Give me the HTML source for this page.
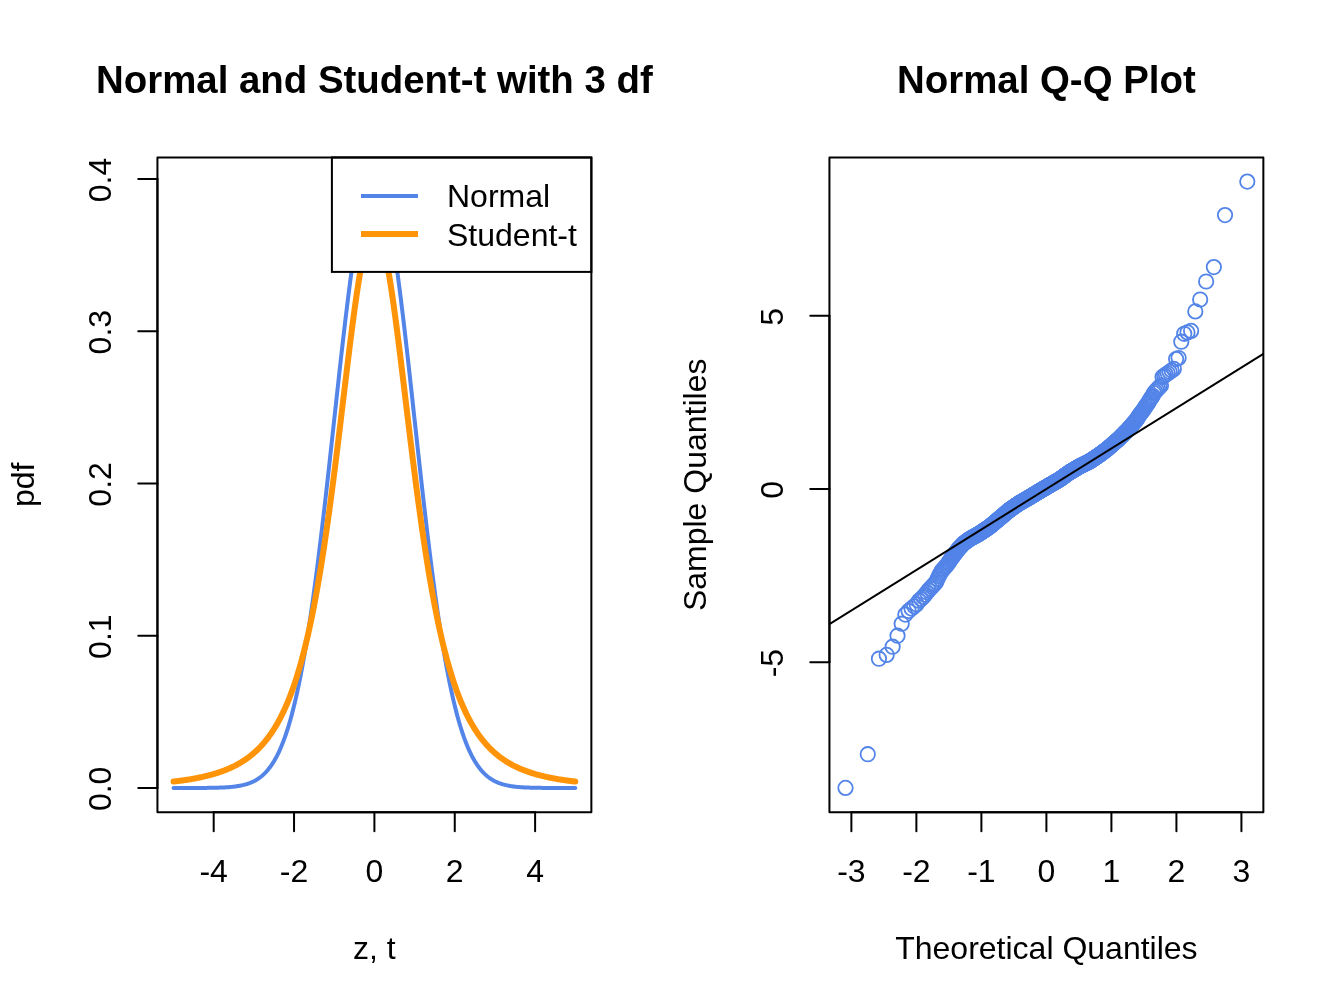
<!DOCTYPE html>
<html><head><meta charset="utf-8"><title>Normal and Student-t</title>
<style>
html,body{margin:0;padding:0;background:#fff}
body{width:1344px;height:1008px;overflow:hidden;font-family:"Liberation Sans",sans-serif}
svg{display:block;will-change:transform}
</style></head><body>
<svg width="1344" height="1008" viewBox="0 0 1344 1008">
<rect width="1344" height="1008" fill="#fff"/>
<g fill="none" stroke-linecap="round" stroke-linejoin="round">
<polyline points="173.51,787.98 174.52,787.98 175.52,787.98 176.52,787.98 177.53,787.98 178.53,787.98 179.54,787.98 180.54,787.97 181.55,787.97 182.55,787.97 183.56,787.97 184.56,787.97 185.56,787.97 186.57,787.97 187.57,787.97 188.58,787.97 189.58,787.96 190.59,787.96 191.59,787.96 192.6,787.96 193.6,787.96 194.6,787.95 195.61,787.95 196.61,787.95 197.62,787.94 198.62,787.94 199.63,787.93 200.63,787.93 201.64,787.92 202.64,787.91 203.64,787.91 204.65,787.9 205.65,787.89 206.66,787.88 207.66,787.87 208.67,787.86 209.67,787.84 210.68,787.83 211.68,787.81 212.68,787.8 213.69,787.78 214.69,787.75 215.7,787.73 216.7,787.71 217.71,787.68 218.71,787.65 219.72,787.61 220.72,787.58 221.72,787.54 222.73,787.49 223.73,787.44 224.74,787.39 225.74,787.33 226.75,787.27 227.75,787.2 228.76,787.13 229.76,787.05 230.76,786.96 231.77,786.87 232.77,786.76 233.78,786.65 234.78,786.53 235.79,786.4 236.79,786.26 237.8,786.1 238.8,785.94 239.8,785.76 240.81,785.57 241.81,785.36 242.82,785.13 243.82,784.89 244.83,784.63 245.83,784.35 246.84,784.05 247.84,783.73 248.84,783.38 249.85,783.01 250.85,782.61 251.86,782.18 252.86,781.72 253.87,781.23 254.87,780.71 255.88,780.15 256.88,779.55 257.88,778.92 258.89,778.24 259.89,777.52 260.9,776.75 261.9,775.93 262.91,775.06 263.91,774.14 264.92,773.16 265.92,772.12 266.92,771.01 267.93,769.85 268.93,768.61 269.94,767.3 270.94,765.92 271.95,764.46 272.95,762.92 273.96,761.3 274.96,759.58 275.96,757.78 276.97,755.88 277.97,753.89 278.98,751.79 279.98,749.59 280.99,747.28 281.99,744.86 283,742.32 284,739.66 285,736.88 286.01,733.98 287.01,730.94 288.02,727.77 289.02,724.47 290.03,721.02 291.03,717.44 292.04,713.7 293.04,709.82 294.04,705.79 295.05,701.6 296.05,697.26 297.06,692.75 298.06,688.09 299.07,683.26 300.07,678.27 301.08,673.12 302.08,667.79 303.08,662.3 304.09,656.64 305.09,650.81 306.1,644.81 307.1,638.64 308.11,632.3 309.11,625.79 310.12,619.12 311.12,612.29 312.12,605.29 313.13,598.13 314.13,590.81 315.14,583.34 316.14,575.72 317.15,567.95 318.15,560.05 319.16,552 320.16,543.82 321.16,535.52 322.17,527.1 323.17,518.57 324.18,509.93 325.18,501.19 326.19,492.37 327.19,483.46 328.2,474.48 329.2,465.43 330.2,456.34 331.21,447.2 332.21,438.02 333.22,428.83 334.22,419.62 335.23,410.41 336.23,401.22 337.24,392.05 338.24,382.91 339.24,373.82 340.25,364.8 341.25,355.84 342.26,346.98 343.26,338.21 344.27,329.55 345.27,321.02 346.28,312.63 347.28,304.39 348.28,296.31 349.29,288.41 350.29,280.7 351.3,273.2 352.3,265.91 353.31,258.85 354.31,252.02 355.32,245.45 356.32,239.14 357.32,233.1 358.33,227.35 359.33,221.9 360.34,216.74 361.34,211.9 362.35,207.38 363.35,203.2 364.36,199.35 365.36,195.84 366.36,192.69 367.37,189.89 368.37,187.45 369.38,185.39 370.38,183.69 371.39,182.37 372.39,181.42 373.4,180.85 374.4,180.66 375.4,180.85 376.41,181.42 377.41,182.37 378.42,183.69 379.42,185.39 380.43,187.45 381.43,189.89 382.44,192.69 383.44,195.84 384.44,199.35 385.45,203.2 386.45,207.38 387.46,211.9 388.46,216.74 389.47,221.9 390.47,227.35 391.48,233.1 392.48,239.14 393.48,245.45 394.49,252.02 395.49,258.85 396.5,265.91 397.5,273.2 398.51,280.7 399.51,288.41 400.52,296.31 401.52,304.39 402.52,312.63 403.53,321.02 404.53,329.55 405.54,338.21 406.54,346.98 407.55,355.84 408.55,364.8 409.56,373.82 410.56,382.91 411.56,392.05 412.57,401.22 413.57,410.41 414.58,419.62 415.58,428.83 416.59,438.02 417.59,447.2 418.6,456.34 419.6,465.43 420.6,474.48 421.61,483.46 422.61,492.37 423.62,501.19 424.62,509.93 425.63,518.57 426.63,527.1 427.64,535.52 428.64,543.82 429.64,552 430.65,560.05 431.65,567.95 432.66,575.72 433.66,583.34 434.67,590.81 435.67,598.13 436.68,605.29 437.68,612.29 438.68,619.12 439.69,625.79 440.69,632.3 441.7,638.64 442.7,644.81 443.71,650.81 444.71,656.64 445.72,662.3 446.72,667.79 447.72,673.12 448.73,678.27 449.73,683.26 450.74,688.09 451.74,692.75 452.75,697.26 453.75,701.6 454.76,705.79 455.76,709.82 456.76,713.7 457.77,717.44 458.77,721.02 459.78,724.47 460.78,727.77 461.79,730.94 462.79,733.98 463.8,736.88 464.8,739.66 465.8,742.32 466.81,744.86 467.81,747.28 468.82,749.59 469.82,751.79 470.83,753.89 471.83,755.88 472.84,757.78 473.84,759.58 474.84,761.3 475.85,762.92 476.85,764.46 477.86,765.92 478.86,767.3 479.87,768.61 480.87,769.85 481.88,771.01 482.88,772.12 483.88,773.16 484.89,774.14 485.89,775.06 486.9,775.93 487.9,776.75 488.91,777.52 489.91,778.24 490.92,778.92 491.92,779.55 492.92,780.15 493.93,780.71 494.93,781.23 495.94,781.72 496.94,782.18 497.95,782.61 498.95,783.01 499.96,783.38 500.96,783.73 501.96,784.05 502.97,784.35 503.97,784.63 504.98,784.89 505.98,785.13 506.99,785.36 507.99,785.57 509,785.76 510,785.94 511,786.1 512.01,786.26 513.01,786.4 514.02,786.53 515.02,786.65 516.03,786.76 517.03,786.87 518.04,786.96 519.04,787.05 520.04,787.13 521.05,787.2 522.05,787.27 523.06,787.33 524.06,787.39 525.07,787.44 526.07,787.49 527.08,787.54 528.08,787.58 529.08,787.61 530.09,787.65 531.09,787.68 532.1,787.71 533.1,787.73 534.11,787.75 535.11,787.78 536.12,787.8 537.12,787.81 538.12,787.83 539.13,787.84 540.13,787.86 541.14,787.87 542.14,787.88 543.15,787.89 544.15,787.9 545.16,787.91 546.16,787.91 547.16,787.92 548.17,787.93 549.17,787.93 550.18,787.94 551.18,787.94 552.19,787.95 553.19,787.95 554.2,787.95 555.2,787.96 556.2,787.96 557.21,787.96 558.21,787.96 559.22,787.96 560.22,787.97 561.23,787.97 562.23,787.97 563.24,787.97 564.24,787.97 565.24,787.97 566.25,787.97 567.25,787.97 568.26,787.97 569.26,787.98 570.27,787.98 571.27,787.98 572.28,787.98 573.28,787.98 574.28,787.98 575.29,787.98" stroke="#5384E8" stroke-width="4"/>
<polyline points="173.51,781.56 174.52,781.44 175.52,781.32 176.52,781.2 177.53,781.08 178.53,780.95 179.54,780.82 180.54,780.69 181.55,780.55 182.55,780.42 183.56,780.27 184.56,780.13 185.56,779.98 186.57,779.83 187.57,779.67 188.58,779.52 189.58,779.35 190.59,779.19 191.59,779.02 192.6,778.84 193.6,778.66 194.6,778.48 195.61,778.29 196.61,778.1 197.62,777.91 198.62,777.71 199.63,777.5 200.63,777.29 201.64,777.08 202.64,776.85 203.64,776.63 204.65,776.4 205.65,776.16 206.66,775.92 207.66,775.67 208.67,775.41 209.67,775.15 210.68,774.88 211.68,774.6 212.68,774.32 213.69,774.03 214.69,773.73 215.7,773.43 216.7,773.11 217.71,772.79 218.71,772.46 219.72,772.13 220.72,771.78 221.72,771.42 222.73,771.06 223.73,770.68 224.74,770.3 225.74,769.9 226.75,769.5 227.75,769.08 228.76,768.65 229.76,768.21 230.76,767.76 231.77,767.29 232.77,766.82 233.78,766.33 234.78,765.82 235.79,765.3 236.79,764.77 237.8,764.23 238.8,763.66 239.8,763.08 240.81,762.49 241.81,761.88 242.82,761.25 243.82,760.6 244.83,759.94 245.83,759.25 246.84,758.55 247.84,757.82 248.84,757.08 249.85,756.31 250.85,755.52 251.86,754.71 252.86,753.87 253.87,753.01 254.87,752.12 255.88,751.21 256.88,750.27 257.88,749.3 258.89,748.3 259.89,747.27 260.9,746.21 261.9,745.12 262.91,744 263.91,742.84 264.92,741.65 265.92,740.42 266.92,739.15 267.93,737.85 268.93,736.5 269.94,735.11 270.94,733.68 271.95,732.21 272.95,730.69 273.96,729.12 274.96,727.51 275.96,725.84 276.97,724.13 277.97,722.36 278.98,720.53 279.98,718.65 280.99,716.71 281.99,714.7 283,712.64 284,710.51 285,708.32 286.01,706.05 287.01,703.72 288.02,701.31 289.02,698.83 290.03,696.27 291.03,693.63 292.04,690.91 293.04,688.1 294.04,685.21 295.05,682.23 296.05,679.15 297.06,675.99 298.06,672.72 299.07,669.36 300.07,665.9 301.08,662.33 302.08,658.65 303.08,654.86 304.09,650.97 305.09,646.95 306.1,642.82 307.1,638.57 308.11,634.2 309.11,629.7 310.12,625.08 311.12,620.33 312.12,615.44 313.13,610.43 314.13,605.27 315.14,599.99 316.14,594.56 317.15,588.99 318.15,583.29 319.16,577.44 320.16,571.45 321.16,565.31 322.17,559.04 323.17,552.62 324.18,546.06 325.18,539.37 326.19,532.53 327.19,525.56 328.2,518.45 329.2,511.22 330.2,503.86 331.21,496.37 332.21,488.77 333.22,481.06 334.22,473.24 335.23,465.33 336.23,457.32 337.24,449.23 338.24,441.07 339.24,432.84 340.25,424.57 341.25,416.25 342.26,407.91 343.26,399.55 344.27,391.19 345.27,382.85 346.28,374.53 347.28,366.27 348.28,358.07 349.29,349.94 350.29,341.92 351.3,334.02 352.3,326.25 353.31,318.65 354.31,311.22 355.32,303.98 356.32,296.97 357.32,290.19 358.33,283.67 359.33,277.43 360.34,271.49 361.34,265.86 362.35,260.57 363.35,255.62 364.36,251.05 365.36,246.86 366.36,243.07 367.37,239.7 368.37,236.75 369.38,234.23 370.38,232.16 371.39,230.54 372.39,229.38 373.4,228.68 374.4,228.45 375.4,228.68 376.41,229.38 377.41,230.54 378.42,232.16 379.42,234.23 380.43,236.75 381.43,239.7 382.44,243.07 383.44,246.86 384.44,251.05 385.45,255.62 386.45,260.57 387.46,265.86 388.46,271.49 389.47,277.43 390.47,283.67 391.48,290.19 392.48,296.97 393.48,303.98 394.49,311.22 395.49,318.65 396.5,326.25 397.5,334.02 398.51,341.92 399.51,349.94 400.52,358.07 401.52,366.27 402.52,374.53 403.53,382.85 404.53,391.19 405.54,399.55 406.54,407.91 407.55,416.25 408.55,424.57 409.56,432.84 410.56,441.07 411.56,449.23 412.57,457.32 413.57,465.33 414.58,473.24 415.58,481.06 416.59,488.77 417.59,496.37 418.6,503.86 419.6,511.22 420.6,518.45 421.61,525.56 422.61,532.53 423.62,539.37 424.62,546.06 425.63,552.62 426.63,559.04 427.64,565.31 428.64,571.45 429.64,577.44 430.65,583.29 431.65,588.99 432.66,594.56 433.66,599.99 434.67,605.27 435.67,610.43 436.68,615.44 437.68,620.33 438.68,625.08 439.69,629.7 440.69,634.2 441.7,638.57 442.7,642.82 443.71,646.95 444.71,650.97 445.72,654.86 446.72,658.65 447.72,662.33 448.73,665.9 449.73,669.36 450.74,672.72 451.74,675.99 452.75,679.15 453.75,682.23 454.76,685.21 455.76,688.1 456.76,690.91 457.77,693.63 458.77,696.27 459.78,698.83 460.78,701.31 461.79,703.72 462.79,706.05 463.8,708.32 464.8,710.51 465.8,712.64 466.81,714.7 467.81,716.71 468.82,718.65 469.82,720.53 470.83,722.36 471.83,724.13 472.84,725.84 473.84,727.51 474.84,729.12 475.85,730.69 476.85,732.21 477.86,733.68 478.86,735.11 479.87,736.5 480.87,737.85 481.88,739.15 482.88,740.42 483.88,741.65 484.89,742.84 485.89,744 486.9,745.12 487.9,746.21 488.91,747.27 489.91,748.3 490.92,749.3 491.92,750.27 492.92,751.21 493.93,752.12 494.93,753.01 495.94,753.87 496.94,754.71 497.95,755.52 498.95,756.31 499.96,757.08 500.96,757.82 501.96,758.55 502.97,759.25 503.97,759.94 504.98,760.6 505.98,761.25 506.99,761.88 507.99,762.49 509,763.08 510,763.66 511,764.23 512.01,764.77 513.01,765.3 514.02,765.82 515.02,766.33 516.03,766.82 517.03,767.29 518.04,767.76 519.04,768.21 520.04,768.65 521.05,769.08 522.05,769.5 523.06,769.9 524.06,770.3 525.07,770.68 526.07,771.06 527.08,771.42 528.08,771.78 529.08,772.13 530.09,772.46 531.09,772.79 532.1,773.11 533.1,773.43 534.11,773.73 535.11,774.03 536.12,774.32 537.12,774.6 538.12,774.88 539.13,775.15 540.13,775.41 541.14,775.67 542.14,775.92 543.15,776.16 544.15,776.4 545.16,776.63 546.16,776.85 547.16,777.08 548.17,777.29 549.17,777.5 550.18,777.71 551.18,777.91 552.19,778.1 553.19,778.29 554.2,778.48 555.2,778.66 556.2,778.84 557.21,779.02 558.21,779.19 559.22,779.35 560.22,779.52 561.23,779.67 562.23,779.83 563.24,779.98 564.24,780.13 565.24,780.27 566.25,780.42 567.25,780.55 568.26,780.69 569.26,780.82 570.27,780.95 571.27,781.08 572.28,781.2 573.28,781.32 574.28,781.44 575.29,781.56" stroke="#FF9409" stroke-width="6"/>
</g>
<rect x="331.9" y="157.44" width="259.46" height="114.46" fill="#fff" stroke="#000" stroke-width="2"/>
<line x1="361" x2="418" y1="195.9" y2="195.9" stroke="#5384E8" stroke-width="4"/>
<line x1="361" x2="418" y1="234.1" y2="234.1" stroke="#FF9409" stroke-width="6"/>
<text x="447" y="207.3" font-size="32" font-family="Liberation Sans, sans-serif">Normal</text>
<text x="447" y="245.5" font-size="32" font-family="Liberation Sans, sans-serif">Student-t</text>
<g stroke="#000" stroke-width="2" fill="none" stroke-linecap="round">
<rect x="157.44" y="157.44" width="433.92" height="654.72" stroke-linejoin="round"/>
<path d="M213.69 812.16H535.11"/>
<path d="M213.69 812.16v19.2"/>
<path d="M294.04 812.16v19.2"/>
<path d="M374.4 812.16v19.2"/>
<path d="M454.76 812.16v19.2"/>
<path d="M535.11 812.16v19.2"/>
<path d="M157.44 179.05V787.98"/>
<path d="M157.44 787.98h-19.2"/>
<path d="M157.44 635.75h-19.2"/>
<path d="M157.44 483.51h-19.2"/>
<path d="M157.44 331.28h-19.2"/>
<path d="M157.44 179.05h-19.2"/>
</g>
<g font-size="32" font-family="Liberation Sans, sans-serif" text-anchor="middle" fill="#000">
<text x="213.69" y="881.88">-4</text>
<text x="294.04" y="881.88">-2</text>
<text x="374.4" y="881.88">0</text>
<text x="454.76" y="881.88">2</text>
<text x="535.11" y="881.88">4</text>
<text x="374.4" y="958.58">z, t</text>
<text transform="translate(111.36 788.88) rotate(-90)">0.0</text>
<text transform="translate(111.36 636.65) rotate(-90)">0.1</text>
<text transform="translate(111.36 484.41) rotate(-90)">0.2</text>
<text transform="translate(111.36 332.18) rotate(-90)">0.3</text>
<text transform="translate(111.36 179.95) rotate(-90)">0.4</text>
<text transform="translate(33.76 484.8) rotate(-90)">pdf</text>
</g>
<text x="374.4" y="92.7" font-size="38.4" font-weight="bold" font-family="Liberation Sans, sans-serif" text-anchor="middle">Normal and Student-t with 3 df</text>
<g fill="none" stroke="#5384E8" stroke-width="1.8">
<circle cx="845.51" cy="787.9" r="7.2"/>
<circle cx="867.77" cy="754.2" r="7.2"/>
<circle cx="878.95" cy="658.7" r="7.2"/>
<circle cx="886.66" cy="654.9" r="7.2"/>
<circle cx="892.62" cy="646.7" r="7.2"/>
<circle cx="897.51" cy="635.7" r="7.2"/>
<circle cx="901.68" cy="623.7" r="7.2"/>
<circle cx="905.33" cy="614.6" r="7.2"/>
<circle cx="908.58" cy="611" r="7.2"/>
<circle cx="911.52" cy="608.6" r="7.2"/>
<circle cx="914.21" cy="606.3" r="7.2"/>
<circle cx="916.68" cy="604.3" r="7.2"/>
<circle cx="918.99" cy="600.73" r="7.2"/>
<circle cx="921.14" cy="598.93" r="7.2"/>
<circle cx="923.17" cy="596.95" r="7.2"/>
<circle cx="925.08" cy="594.76" r="7.2"/>
<circle cx="926.89" cy="592.38" r="7.2"/>
<circle cx="928.61" cy="590.35" r="7.2"/>
<circle cx="930.26" cy="588.53" r="7.2"/>
<circle cx="931.83" cy="586.78" r="7.2"/>
<circle cx="933.34" cy="585.16" r="7.2"/>
<circle cx="934.79" cy="583.71" r="7.2"/>
<circle cx="936.19" cy="581.9" r="7.2"/>
<circle cx="937.53" cy="579.03" r="7.2"/>
<circle cx="938.84" cy="576.13" r="7.2"/>
<circle cx="940.1" cy="573.64" r="7.2"/>
<circle cx="941.32" cy="571.6" r="7.2"/>
<circle cx="942.51" cy="569.98" r="7.2"/>
<circle cx="943.66" cy="568.65" r="7.2"/>
<circle cx="944.78" cy="567.37" r="7.2"/>
<circle cx="945.87" cy="566.16" r="7.2"/>
<circle cx="946.93" cy="564.97" r="7.2"/>
<circle cx="947.97" cy="563.47" r="7.2"/>
<circle cx="948.99" cy="561.97" r="7.2"/>
<circle cx="949.98" cy="560.51" r="7.2"/>
<circle cx="950.94" cy="559.08" r="7.2"/>
<circle cx="951.89" cy="557.79" r="7.2"/>
<circle cx="952.82" cy="556.53" r="7.2"/>
<circle cx="953.73" cy="555.3" r="7.2"/>
<circle cx="954.62" cy="554.09" r="7.2"/>
<circle cx="955.49" cy="552.9" r="7.2"/>
<circle cx="956.35" cy="551.73" r="7.2"/>
<circle cx="957.2" cy="550.59" r="7.2"/>
<circle cx="958.02" cy="549.47" r="7.2"/>
<circle cx="958.84" cy="548.59" r="7.2"/>
<circle cx="959.64" cy="547.71" r="7.2"/>
<circle cx="960.43" cy="546.85" r="7.2"/>
<circle cx="961.2" cy="546.01" r="7.2"/>
<circle cx="961.97" cy="545.17" r="7.2"/>
<circle cx="962.72" cy="544.35" r="7.2"/>
<circle cx="963.46" cy="543.55" r="7.2"/>
<circle cx="964.19" cy="543" r="7.2"/>
<circle cx="964.91" cy="542.48" r="7.2"/>
<circle cx="965.62" cy="541.96" r="7.2"/>
<circle cx="966.32" cy="541.45" r="7.2"/>
<circle cx="967.01" cy="540.95" r="7.2"/>
<circle cx="967.69" cy="540.46" r="7.2"/>
<circle cx="968.37" cy="539.97" r="7.2"/>
<circle cx="969.03" cy="539.48" r="7.2"/>
<circle cx="969.69" cy="539.01" r="7.2"/>
<circle cx="970.34" cy="538.64" r="7.2"/>
<circle cx="970.98" cy="538.29" r="7.2"/>
<circle cx="971.62" cy="537.93" r="7.2"/>
<circle cx="972.25" cy="537.59" r="7.2"/>
<circle cx="972.87" cy="537.24" r="7.2"/>
<circle cx="973.48" cy="536.9" r="7.2"/>
<circle cx="974.09" cy="536.56" r="7.2"/>
<circle cx="974.69" cy="536.23" r="7.2"/>
<circle cx="975.29" cy="535.9" r="7.2"/>
<circle cx="975.88" cy="535.57" r="7.2"/>
<circle cx="976.46" cy="535.24" r="7.2"/>
<circle cx="977.04" cy="534.92" r="7.2"/>
<circle cx="977.61" cy="534.6" r="7.2"/>
<circle cx="978.18" cy="534.29" r="7.2"/>
<circle cx="978.74" cy="533.98" r="7.2"/>
<circle cx="979.3" cy="533.67" r="7.2"/>
<circle cx="979.85" cy="533.33" r="7.2"/>
<circle cx="980.4" cy="532.96" r="7.2"/>
<circle cx="980.95" cy="532.59" r="7.2"/>
<circle cx="981.48" cy="532.22" r="7.2"/>
<circle cx="982.02" cy="531.86" r="7.2"/>
<circle cx="982.55" cy="531.5" r="7.2"/>
<circle cx="983.08" cy="531.15" r="7.2"/>
<circle cx="983.6" cy="530.8" r="7.2"/>
<circle cx="984.11" cy="530.44" r="7.2"/>
<circle cx="984.63" cy="530.1" r="7.2"/>
<circle cx="985.14" cy="529.75" r="7.2"/>
<circle cx="985.64" cy="529.41" r="7.2"/>
<circle cx="986.15" cy="529.07" r="7.2"/>
<circle cx="986.65" cy="528.73" r="7.2"/>
<circle cx="987.14" cy="528.4" r="7.2"/>
<circle cx="987.63" cy="528.06" r="7.2"/>
<circle cx="988.12" cy="527.73" r="7.2"/>
<circle cx="988.61" cy="527.4" r="7.2"/>
<circle cx="989.09" cy="527.08" r="7.2"/>
<circle cx="989.57" cy="526.74" r="7.2"/>
<circle cx="990.05" cy="526.34" r="7.2"/>
<circle cx="990.52" cy="525.95" r="7.2"/>
<circle cx="990.99" cy="525.55" r="7.2"/>
<circle cx="991.46" cy="525.16" r="7.2"/>
<circle cx="991.92" cy="524.77" r="7.2"/>
<circle cx="992.38" cy="524.38" r="7.2"/>
<circle cx="992.84" cy="524" r="7.2"/>
<circle cx="993.3" cy="523.62" r="7.2"/>
<circle cx="993.75" cy="523.24" r="7.2"/>
<circle cx="994.2" cy="522.86" r="7.2"/>
<circle cx="994.65" cy="522.48" r="7.2"/>
<circle cx="995.1" cy="522.11" r="7.2"/>
<circle cx="995.54" cy="521.74" r="7.2"/>
<circle cx="995.98" cy="521.37" r="7.2"/>
<circle cx="996.42" cy="521" r="7.2"/>
<circle cx="996.86" cy="520.63" r="7.2"/>
<circle cx="997.29" cy="520.27" r="7.2"/>
<circle cx="997.72" cy="519.9" r="7.2"/>
<circle cx="998.15" cy="519.54" r="7.2"/>
<circle cx="998.58" cy="519.18" r="7.2"/>
<circle cx="999.01" cy="518.83" r="7.2"/>
<circle cx="999.43" cy="518.47" r="7.2"/>
<circle cx="999.86" cy="518.11" r="7.2"/>
<circle cx="1000.28" cy="517.76" r="7.2"/>
<circle cx="1000.69" cy="517.4" r="7.2"/>
<circle cx="1001.11" cy="517.05" r="7.2"/>
<circle cx="1001.52" cy="516.69" r="7.2"/>
<circle cx="1001.94" cy="516.34" r="7.2"/>
<circle cx="1002.35" cy="515.99" r="7.2"/>
<circle cx="1002.76" cy="515.65" r="7.2"/>
<circle cx="1003.16" cy="515.3" r="7.2"/>
<circle cx="1003.57" cy="514.96" r="7.2"/>
<circle cx="1003.97" cy="514.61" r="7.2"/>
<circle cx="1004.38" cy="514.27" r="7.2"/>
<circle cx="1004.78" cy="513.93" r="7.2"/>
<circle cx="1005.18" cy="513.59" r="7.2"/>
<circle cx="1005.57" cy="513.25" r="7.2"/>
<circle cx="1005.97" cy="512.91" r="7.2"/>
<circle cx="1006.37" cy="512.58" r="7.2"/>
<circle cx="1006.76" cy="512.24" r="7.2"/>
<circle cx="1007.15" cy="511.91" r="7.2"/>
<circle cx="1007.54" cy="511.58" r="7.2"/>
<circle cx="1007.93" cy="511.25" r="7.2"/>
<circle cx="1008.32" cy="510.92" r="7.2"/>
<circle cx="1008.7" cy="510.59" r="7.2"/>
<circle cx="1009.09" cy="510.26" r="7.2"/>
<circle cx="1009.47" cy="509.95" r="7.2"/>
<circle cx="1009.85" cy="509.69" r="7.2"/>
<circle cx="1010.24" cy="509.43" r="7.2"/>
<circle cx="1010.62" cy="509.17" r="7.2"/>
<circle cx="1010.99" cy="508.91" r="7.2"/>
<circle cx="1011.37" cy="508.65" r="7.2"/>
<circle cx="1011.75" cy="508.39" r="7.2"/>
<circle cx="1012.12" cy="508.13" r="7.2"/>
<circle cx="1012.5" cy="507.87" r="7.2"/>
<circle cx="1012.87" cy="507.62" r="7.2"/>
<circle cx="1013.24" cy="507.36" r="7.2"/>
<circle cx="1013.61" cy="507.11" r="7.2"/>
<circle cx="1013.98" cy="506.86" r="7.2"/>
<circle cx="1014.35" cy="506.6" r="7.2"/>
<circle cx="1014.72" cy="506.35" r="7.2"/>
<circle cx="1015.08" cy="506.1" r="7.2"/>
<circle cx="1015.45" cy="505.85" r="7.2"/>
<circle cx="1015.81" cy="505.6" r="7.2"/>
<circle cx="1016.18" cy="505.35" r="7.2"/>
<circle cx="1016.54" cy="505.1" r="7.2"/>
<circle cx="1016.9" cy="504.85" r="7.2"/>
<circle cx="1017.26" cy="504.6" r="7.2"/>
<circle cx="1017.62" cy="504.36" r="7.2"/>
<circle cx="1017.98" cy="504.11" r="7.2"/>
<circle cx="1018.34" cy="503.86" r="7.2"/>
<circle cx="1018.7" cy="503.62" r="7.2"/>
<circle cx="1019.05" cy="503.38" r="7.2"/>
<circle cx="1019.41" cy="503.13" r="7.2"/>
<circle cx="1019.76" cy="502.91" r="7.2"/>
<circle cx="1020.12" cy="502.7" r="7.2"/>
<circle cx="1020.47" cy="502.5" r="7.2"/>
<circle cx="1020.82" cy="502.3" r="7.2"/>
<circle cx="1021.18" cy="502.09" r="7.2"/>
<circle cx="1021.53" cy="501.89" r="7.2"/>
<circle cx="1021.88" cy="501.69" r="7.2"/>
<circle cx="1022.23" cy="501.49" r="7.2"/>
<circle cx="1022.58" cy="501.29" r="7.2"/>
<circle cx="1022.92" cy="501.09" r="7.2"/>
<circle cx="1023.27" cy="500.89" r="7.2"/>
<circle cx="1023.62" cy="500.69" r="7.2"/>
<circle cx="1023.96" cy="500.49" r="7.2"/>
<circle cx="1024.31" cy="500.29" r="7.2"/>
<circle cx="1024.65" cy="500.09" r="7.2"/>
<circle cx="1025" cy="499.89" r="7.2"/>
<circle cx="1025.34" cy="499.69" r="7.2"/>
<circle cx="1025.69" cy="499.5" r="7.2"/>
<circle cx="1026.03" cy="499.3" r="7.2"/>
<circle cx="1026.37" cy="499.1" r="7.2"/>
<circle cx="1026.71" cy="498.91" r="7.2"/>
<circle cx="1027.05" cy="498.71" r="7.2"/>
<circle cx="1027.39" cy="498.51" r="7.2"/>
<circle cx="1027.73" cy="498.32" r="7.2"/>
<circle cx="1028.07" cy="498.12" r="7.2"/>
<circle cx="1028.41" cy="497.93" r="7.2"/>
<circle cx="1028.75" cy="497.73" r="7.2"/>
<circle cx="1029.09" cy="497.54" r="7.2"/>
<circle cx="1029.43" cy="497.34" r="7.2"/>
<circle cx="1029.76" cy="497.14" r="7.2"/>
<circle cx="1030.1" cy="496.93" r="7.2"/>
<circle cx="1030.43" cy="496.73" r="7.2"/>
<circle cx="1030.77" cy="496.52" r="7.2"/>
<circle cx="1031.11" cy="496.32" r="7.2"/>
<circle cx="1031.44" cy="496.11" r="7.2"/>
<circle cx="1031.77" cy="495.91" r="7.2"/>
<circle cx="1032.11" cy="495.7" r="7.2"/>
<circle cx="1032.44" cy="495.5" r="7.2"/>
<circle cx="1032.78" cy="495.3" r="7.2"/>
<circle cx="1033.11" cy="495.09" r="7.2"/>
<circle cx="1033.44" cy="494.89" r="7.2"/>
<circle cx="1033.77" cy="494.69" r="7.2"/>
<circle cx="1034.11" cy="494.48" r="7.2"/>
<circle cx="1034.44" cy="494.28" r="7.2"/>
<circle cx="1034.77" cy="494.08" r="7.2"/>
<circle cx="1035.1" cy="493.87" r="7.2"/>
<circle cx="1035.43" cy="493.67" r="7.2"/>
<circle cx="1035.76" cy="493.47" r="7.2"/>
<circle cx="1036.09" cy="493.27" r="7.2"/>
<circle cx="1036.42" cy="493.07" r="7.2"/>
<circle cx="1036.75" cy="492.87" r="7.2"/>
<circle cx="1037.08" cy="492.66" r="7.2"/>
<circle cx="1037.41" cy="492.46" r="7.2"/>
<circle cx="1037.74" cy="492.26" r="7.2"/>
<circle cx="1038.07" cy="492.06" r="7.2"/>
<circle cx="1038.4" cy="491.86" r="7.2"/>
<circle cx="1038.72" cy="491.66" r="7.2"/>
<circle cx="1039.05" cy="491.46" r="7.2"/>
<circle cx="1039.38" cy="491.26" r="7.2"/>
<circle cx="1039.71" cy="491.06" r="7.2"/>
<circle cx="1040.03" cy="490.86" r="7.2"/>
<circle cx="1040.36" cy="490.67" r="7.2"/>
<circle cx="1040.69" cy="490.48" r="7.2"/>
<circle cx="1041.02" cy="490.29" r="7.2"/>
<circle cx="1041.34" cy="490.1" r="7.2"/>
<circle cx="1041.67" cy="489.9" r="7.2"/>
<circle cx="1042" cy="489.71" r="7.2"/>
<circle cx="1042.32" cy="489.52" r="7.2"/>
<circle cx="1042.65" cy="489.33" r="7.2"/>
<circle cx="1042.98" cy="489.14" r="7.2"/>
<circle cx="1043.3" cy="488.95" r="7.2"/>
<circle cx="1043.63" cy="488.76" r="7.2"/>
<circle cx="1043.96" cy="488.57" r="7.2"/>
<circle cx="1044.28" cy="488.37" r="7.2"/>
<circle cx="1044.61" cy="488.18" r="7.2"/>
<circle cx="1044.93" cy="487.99" r="7.2"/>
<circle cx="1045.26" cy="487.8" r="7.2"/>
<circle cx="1045.59" cy="487.61" r="7.2"/>
<circle cx="1045.91" cy="487.42" r="7.2"/>
<circle cx="1046.24" cy="487.23" r="7.2"/>
<circle cx="1046.56" cy="487.04" r="7.2"/>
<circle cx="1046.89" cy="486.85" r="7.2"/>
<circle cx="1047.21" cy="486.66" r="7.2"/>
<circle cx="1047.54" cy="486.47" r="7.2"/>
<circle cx="1047.87" cy="486.27" r="7.2"/>
<circle cx="1048.19" cy="486.08" r="7.2"/>
<circle cx="1048.52" cy="485.89" r="7.2"/>
<circle cx="1048.84" cy="485.7" r="7.2"/>
<circle cx="1049.17" cy="485.51" r="7.2"/>
<circle cx="1049.5" cy="485.32" r="7.2"/>
<circle cx="1049.82" cy="485.13" r="7.2"/>
<circle cx="1050.15" cy="484.94" r="7.2"/>
<circle cx="1050.48" cy="484.75" r="7.2"/>
<circle cx="1050.8" cy="484.56" r="7.2"/>
<circle cx="1051.13" cy="484.38" r="7.2"/>
<circle cx="1051.46" cy="484.19" r="7.2"/>
<circle cx="1051.78" cy="484" r="7.2"/>
<circle cx="1052.11" cy="483.81" r="7.2"/>
<circle cx="1052.44" cy="483.62" r="7.2"/>
<circle cx="1052.77" cy="483.44" r="7.2"/>
<circle cx="1053.09" cy="483.25" r="7.2"/>
<circle cx="1053.42" cy="483.06" r="7.2"/>
<circle cx="1053.75" cy="482.87" r="7.2"/>
<circle cx="1054.08" cy="482.68" r="7.2"/>
<circle cx="1054.4" cy="482.49" r="7.2"/>
<circle cx="1054.73" cy="482.3" r="7.2"/>
<circle cx="1055.06" cy="482.11" r="7.2"/>
<circle cx="1055.39" cy="481.92" r="7.2"/>
<circle cx="1055.72" cy="481.73" r="7.2"/>
<circle cx="1056.05" cy="481.54" r="7.2"/>
<circle cx="1056.38" cy="481.35" r="7.2"/>
<circle cx="1056.71" cy="481.16" r="7.2"/>
<circle cx="1057.04" cy="480.97" r="7.2"/>
<circle cx="1057.37" cy="480.78" r="7.2"/>
<circle cx="1057.7" cy="480.59" r="7.2"/>
<circle cx="1058.03" cy="480.4" r="7.2"/>
<circle cx="1058.36" cy="480.21" r="7.2"/>
<circle cx="1058.69" cy="480.02" r="7.2"/>
<circle cx="1059.03" cy="479.83" r="7.2"/>
<circle cx="1059.36" cy="479.64" r="7.2"/>
<circle cx="1059.69" cy="479.43" r="7.2"/>
<circle cx="1060.02" cy="479.2" r="7.2"/>
<circle cx="1060.36" cy="478.96" r="7.2"/>
<circle cx="1060.69" cy="478.72" r="7.2"/>
<circle cx="1061.03" cy="478.48" r="7.2"/>
<circle cx="1061.36" cy="478.24" r="7.2"/>
<circle cx="1061.69" cy="478" r="7.2"/>
<circle cx="1062.03" cy="477.76" r="7.2"/>
<circle cx="1062.37" cy="477.52" r="7.2"/>
<circle cx="1062.7" cy="477.28" r="7.2"/>
<circle cx="1063.04" cy="477.03" r="7.2"/>
<circle cx="1063.37" cy="476.79" r="7.2"/>
<circle cx="1063.71" cy="476.55" r="7.2"/>
<circle cx="1064.05" cy="476.31" r="7.2"/>
<circle cx="1064.39" cy="476.07" r="7.2"/>
<circle cx="1064.73" cy="475.82" r="7.2"/>
<circle cx="1065.07" cy="475.58" r="7.2"/>
<circle cx="1065.41" cy="475.34" r="7.2"/>
<circle cx="1065.75" cy="475.09" r="7.2"/>
<circle cx="1066.09" cy="474.85" r="7.2"/>
<circle cx="1066.43" cy="474.6" r="7.2"/>
<circle cx="1066.77" cy="474.36" r="7.2"/>
<circle cx="1067.11" cy="474.11" r="7.2"/>
<circle cx="1067.46" cy="473.87" r="7.2"/>
<circle cx="1067.8" cy="473.62" r="7.2"/>
<circle cx="1068.15" cy="473.37" r="7.2"/>
<circle cx="1068.49" cy="473.12" r="7.2"/>
<circle cx="1068.84" cy="472.88" r="7.2"/>
<circle cx="1069.18" cy="472.63" r="7.2"/>
<circle cx="1069.53" cy="472.38" r="7.2"/>
<circle cx="1069.88" cy="472.18" r="7.2"/>
<circle cx="1070.22" cy="471.97" r="7.2"/>
<circle cx="1070.57" cy="471.76" r="7.2"/>
<circle cx="1070.92" cy="471.55" r="7.2"/>
<circle cx="1071.27" cy="471.34" r="7.2"/>
<circle cx="1071.62" cy="471.13" r="7.2"/>
<circle cx="1071.98" cy="470.92" r="7.2"/>
<circle cx="1072.33" cy="470.71" r="7.2"/>
<circle cx="1072.68" cy="470.5" r="7.2"/>
<circle cx="1073.04" cy="470.29" r="7.2"/>
<circle cx="1073.39" cy="470.08" r="7.2"/>
<circle cx="1073.75" cy="469.87" r="7.2"/>
<circle cx="1074.1" cy="469.66" r="7.2"/>
<circle cx="1074.46" cy="469.44" r="7.2"/>
<circle cx="1074.82" cy="469.23" r="7.2"/>
<circle cx="1075.18" cy="469.02" r="7.2"/>
<circle cx="1075.54" cy="468.8" r="7.2"/>
<circle cx="1075.9" cy="468.59" r="7.2"/>
<circle cx="1076.26" cy="468.37" r="7.2"/>
<circle cx="1076.62" cy="468.16" r="7.2"/>
<circle cx="1076.99" cy="467.94" r="7.2"/>
<circle cx="1077.35" cy="467.72" r="7.2"/>
<circle cx="1077.72" cy="467.5" r="7.2"/>
<circle cx="1078.08" cy="467.29" r="7.2"/>
<circle cx="1078.45" cy="467.07" r="7.2"/>
<circle cx="1078.82" cy="466.85" r="7.2"/>
<circle cx="1079.19" cy="466.63" r="7.2"/>
<circle cx="1079.56" cy="466.42" r="7.2"/>
<circle cx="1079.93" cy="466.24" r="7.2"/>
<circle cx="1080.3" cy="466.06" r="7.2"/>
<circle cx="1080.68" cy="465.87" r="7.2"/>
<circle cx="1081.05" cy="465.69" r="7.2"/>
<circle cx="1081.43" cy="465.51" r="7.2"/>
<circle cx="1081.81" cy="465.32" r="7.2"/>
<circle cx="1082.18" cy="465.14" r="7.2"/>
<circle cx="1082.56" cy="464.95" r="7.2"/>
<circle cx="1082.95" cy="464.76" r="7.2"/>
<circle cx="1083.33" cy="464.58" r="7.2"/>
<circle cx="1083.71" cy="464.39" r="7.2"/>
<circle cx="1084.1" cy="464.2" r="7.2"/>
<circle cx="1084.48" cy="464.01" r="7.2"/>
<circle cx="1084.87" cy="463.82" r="7.2"/>
<circle cx="1085.26" cy="463.63" r="7.2"/>
<circle cx="1085.65" cy="463.44" r="7.2"/>
<circle cx="1086.04" cy="463.25" r="7.2"/>
<circle cx="1086.43" cy="463.05" r="7.2"/>
<circle cx="1086.83" cy="462.86" r="7.2"/>
<circle cx="1087.23" cy="462.67" r="7.2"/>
<circle cx="1087.62" cy="462.47" r="7.2"/>
<circle cx="1088.02" cy="462.28" r="7.2"/>
<circle cx="1088.42" cy="462.08" r="7.2"/>
<circle cx="1088.83" cy="461.88" r="7.2"/>
<circle cx="1089.23" cy="461.68" r="7.2"/>
<circle cx="1089.64" cy="461.44" r="7.2"/>
<circle cx="1090.04" cy="461.17" r="7.2"/>
<circle cx="1090.45" cy="460.9" r="7.2"/>
<circle cx="1090.86" cy="460.62" r="7.2"/>
<circle cx="1091.28" cy="460.35" r="7.2"/>
<circle cx="1091.69" cy="460.07" r="7.2"/>
<circle cx="1092.11" cy="459.8" r="7.2"/>
<circle cx="1092.52" cy="459.52" r="7.2"/>
<circle cx="1092.94" cy="459.24" r="7.2"/>
<circle cx="1093.37" cy="458.96" r="7.2"/>
<circle cx="1093.79" cy="458.67" r="7.2"/>
<circle cx="1094.22" cy="458.39" r="7.2"/>
<circle cx="1094.65" cy="458.1" r="7.2"/>
<circle cx="1095.08" cy="457.82" r="7.2"/>
<circle cx="1095.51" cy="457.53" r="7.2"/>
<circle cx="1095.94" cy="457.24" r="7.2"/>
<circle cx="1096.38" cy="456.95" r="7.2"/>
<circle cx="1096.82" cy="456.65" r="7.2"/>
<circle cx="1097.26" cy="456.36" r="7.2"/>
<circle cx="1097.7" cy="456.06" r="7.2"/>
<circle cx="1098.15" cy="455.77" r="7.2"/>
<circle cx="1098.6" cy="455.47" r="7.2"/>
<circle cx="1099.05" cy="455.17" r="7.2"/>
<circle cx="1099.5" cy="454.85" r="7.2"/>
<circle cx="1099.96" cy="454.51" r="7.2"/>
<circle cx="1100.42" cy="454.16" r="7.2"/>
<circle cx="1100.88" cy="453.81" r="7.2"/>
<circle cx="1101.34" cy="453.47" r="7.2"/>
<circle cx="1101.81" cy="453.12" r="7.2"/>
<circle cx="1102.28" cy="452.76" r="7.2"/>
<circle cx="1102.75" cy="452.41" r="7.2"/>
<circle cx="1103.23" cy="452.05" r="7.2"/>
<circle cx="1103.71" cy="451.69" r="7.2"/>
<circle cx="1104.19" cy="451.33" r="7.2"/>
<circle cx="1104.68" cy="450.97" r="7.2"/>
<circle cx="1105.17" cy="450.6" r="7.2"/>
<circle cx="1105.66" cy="450.23" r="7.2"/>
<circle cx="1106.15" cy="449.86" r="7.2"/>
<circle cx="1106.65" cy="449.49" r="7.2"/>
<circle cx="1107.16" cy="449.08" r="7.2"/>
<circle cx="1107.66" cy="448.64" r="7.2"/>
<circle cx="1108.17" cy="448.2" r="7.2"/>
<circle cx="1108.69" cy="447.75" r="7.2"/>
<circle cx="1109.2" cy="447.3" r="7.2"/>
<circle cx="1109.72" cy="446.85" r="7.2"/>
<circle cx="1110.25" cy="446.39" r="7.2"/>
<circle cx="1110.78" cy="445.93" r="7.2"/>
<circle cx="1111.32" cy="445.47" r="7.2"/>
<circle cx="1111.85" cy="445" r="7.2"/>
<circle cx="1112.4" cy="444.53" r="7.2"/>
<circle cx="1112.95" cy="444.05" r="7.2"/>
<circle cx="1113.5" cy="443.57" r="7.2"/>
<circle cx="1114.06" cy="443.09" r="7.2"/>
<circle cx="1114.62" cy="442.6" r="7.2"/>
<circle cx="1115.19" cy="442.1" r="7.2"/>
<circle cx="1115.76" cy="441.61" r="7.2"/>
<circle cx="1116.34" cy="441.1" r="7.2"/>
<circle cx="1116.92" cy="440.6" r="7.2"/>
<circle cx="1117.51" cy="440.08" r="7.2"/>
<circle cx="1118.11" cy="439.57" r="7.2"/>
<circle cx="1118.71" cy="438.99" r="7.2"/>
<circle cx="1119.32" cy="438.37" r="7.2"/>
<circle cx="1119.93" cy="437.75" r="7.2"/>
<circle cx="1120.55" cy="437.12" r="7.2"/>
<circle cx="1121.18" cy="436.49" r="7.2"/>
<circle cx="1121.82" cy="435.85" r="7.2"/>
<circle cx="1122.46" cy="435.2" r="7.2"/>
<circle cx="1123.11" cy="434.54" r="7.2"/>
<circle cx="1123.77" cy="433.88" r="7.2"/>
<circle cx="1124.43" cy="433.21" r="7.2"/>
<circle cx="1125.11" cy="432.52" r="7.2"/>
<circle cx="1125.79" cy="431.84" r="7.2"/>
<circle cx="1126.48" cy="431.14" r="7.2"/>
<circle cx="1127.18" cy="430.43" r="7.2"/>
<circle cx="1127.89" cy="429.71" r="7.2"/>
<circle cx="1128.61" cy="428.92" r="7.2"/>
<circle cx="1129.34" cy="428.05" r="7.2"/>
<circle cx="1130.08" cy="427.18" r="7.2"/>
<circle cx="1130.83" cy="426.3" r="7.2"/>
<circle cx="1131.6" cy="425.4" r="7.2"/>
<circle cx="1132.37" cy="424.48" r="7.2"/>
<circle cx="1133.16" cy="423.55" r="7.2"/>
<circle cx="1133.96" cy="422.61" r="7.2"/>
<circle cx="1134.78" cy="421.65" r="7.2"/>
<circle cx="1135.6" cy="420.67" r="7.2"/>
<circle cx="1136.45" cy="419.68" r="7.2"/>
<circle cx="1137.31" cy="418.4" r="7.2"/>
<circle cx="1138.18" cy="417.03" r="7.2"/>
<circle cx="1139.07" cy="415.64" r="7.2"/>
<circle cx="1139.98" cy="414.27" r="7.2"/>
<circle cx="1140.91" cy="413.11" r="7.2"/>
<circle cx="1141.86" cy="411.93" r="7.2"/>
<circle cx="1142.82" cy="410.64" r="7.2"/>
<circle cx="1143.81" cy="409.27" r="7.2"/>
<circle cx="1144.83" cy="407.72" r="7.2"/>
<circle cx="1145.87" cy="405.99" r="7.2"/>
<circle cx="1146.93" cy="404.56" r="7.2"/>
<circle cx="1148.02" cy="403.2" r="7.2"/>
<circle cx="1149.14" cy="401.22" r="7.2"/>
<circle cx="1150.29" cy="399.05" r="7.2"/>
<circle cx="1151.48" cy="397.42" r="7.2"/>
<circle cx="1152.7" cy="395.82" r="7.2"/>
<circle cx="1153.96" cy="393.1" r="7.2"/>
<circle cx="1155.27" cy="391.6" r="7.2"/>
<circle cx="1156.61" cy="390" r="7.2"/>
<circle cx="1158.01" cy="388.5" r="7.2"/>
<circle cx="1159.46" cy="386.9" r="7.2"/>
<circle cx="1160.97" cy="385.4" r="7.2"/>
<circle cx="1162.54" cy="377" r="7.2"/>
<circle cx="1164.19" cy="375.8" r="7.2"/>
<circle cx="1165.91" cy="374.6" r="7.2"/>
<circle cx="1167.72" cy="373.3" r="7.2"/>
<circle cx="1169.63" cy="371.9" r="7.2"/>
<circle cx="1171.66" cy="370.4" r="7.2"/>
<circle cx="1173.81" cy="368.9" r="7.2"/>
<circle cx="1176.12" cy="359.1" r="7.2"/>
<circle cx="1178.59" cy="358" r="7.2"/>
<circle cx="1181.28" cy="341.7" r="7.2"/>
<circle cx="1184.22" cy="333.8" r="7.2"/>
<circle cx="1187.47" cy="332.4" r="7.2"/>
<circle cx="1191.12" cy="330.9" r="7.2"/>
<circle cx="1195.29" cy="311.4" r="7.2"/>
<circle cx="1200.18" cy="299.5" r="7.2"/>
<circle cx="1206.14" cy="281.5" r="7.2"/>
<circle cx="1213.85" cy="267.1" r="7.2"/>
<circle cx="1225.03" cy="215.1" r="7.2"/>
<circle cx="1247.29" cy="181.6" r="7.2"/>
</g>
<clipPath id="c2"><rect x="829.44" y="157.44" width="433.92" height="654.72"/></clipPath>
<path d="M829.44 624.2L1263.36 353.8" stroke="#000" stroke-width="2" clip-path="url(#c2)"/>
<g stroke="#000" stroke-width="2" fill="none" stroke-linecap="round">
<rect x="829.44" y="157.44" width="433.92" height="654.72" stroke-linejoin="round"/>
<path d="M851.38 812.16H1241.42"/>
<path d="M851.38 812.16v19.2"/>
<path d="M916.38 812.16v19.2"/>
<path d="M981.39 812.16v19.2"/>
<path d="M1046.4 812.16v19.2"/>
<path d="M1111.41 812.16v19.2"/>
<path d="M1176.42 812.16v19.2"/>
<path d="M1241.42 812.16v19.2"/>
<path d="M829.44 315.87V662.23"/>
<path d="M829.44 662.23h-19.2"/>
<path d="M829.44 489.05h-19.2"/>
<path d="M829.44 315.87h-19.2"/>
</g>
<g font-size="32" font-family="Liberation Sans, sans-serif" text-anchor="middle" fill="#000">
<text x="851.38" y="881.88">-3</text>
<text x="916.38" y="881.88">-2</text>
<text x="981.39" y="881.88">-1</text>
<text x="1046.4" y="881.88">0</text>
<text x="1111.41" y="881.88">1</text>
<text x="1176.42" y="881.88">2</text>
<text x="1241.42" y="881.88">3</text>
<text x="1046.4" y="958.58">Theoretical Quantiles</text>
<text transform="translate(783.36 663.13) rotate(-90)">-5</text>
<text transform="translate(783.36 489.95) rotate(-90)">0</text>
<text transform="translate(783.36 316.77) rotate(-90)">5</text>
<text transform="translate(705.76 484.8) rotate(-90)">Sample Quantiles</text>
</g>
<text x="1046.4" y="92.7" font-size="38.4" font-weight="bold" font-family="Liberation Sans, sans-serif" text-anchor="middle">Normal Q-Q Plot</text>
</svg>
</body></html>
